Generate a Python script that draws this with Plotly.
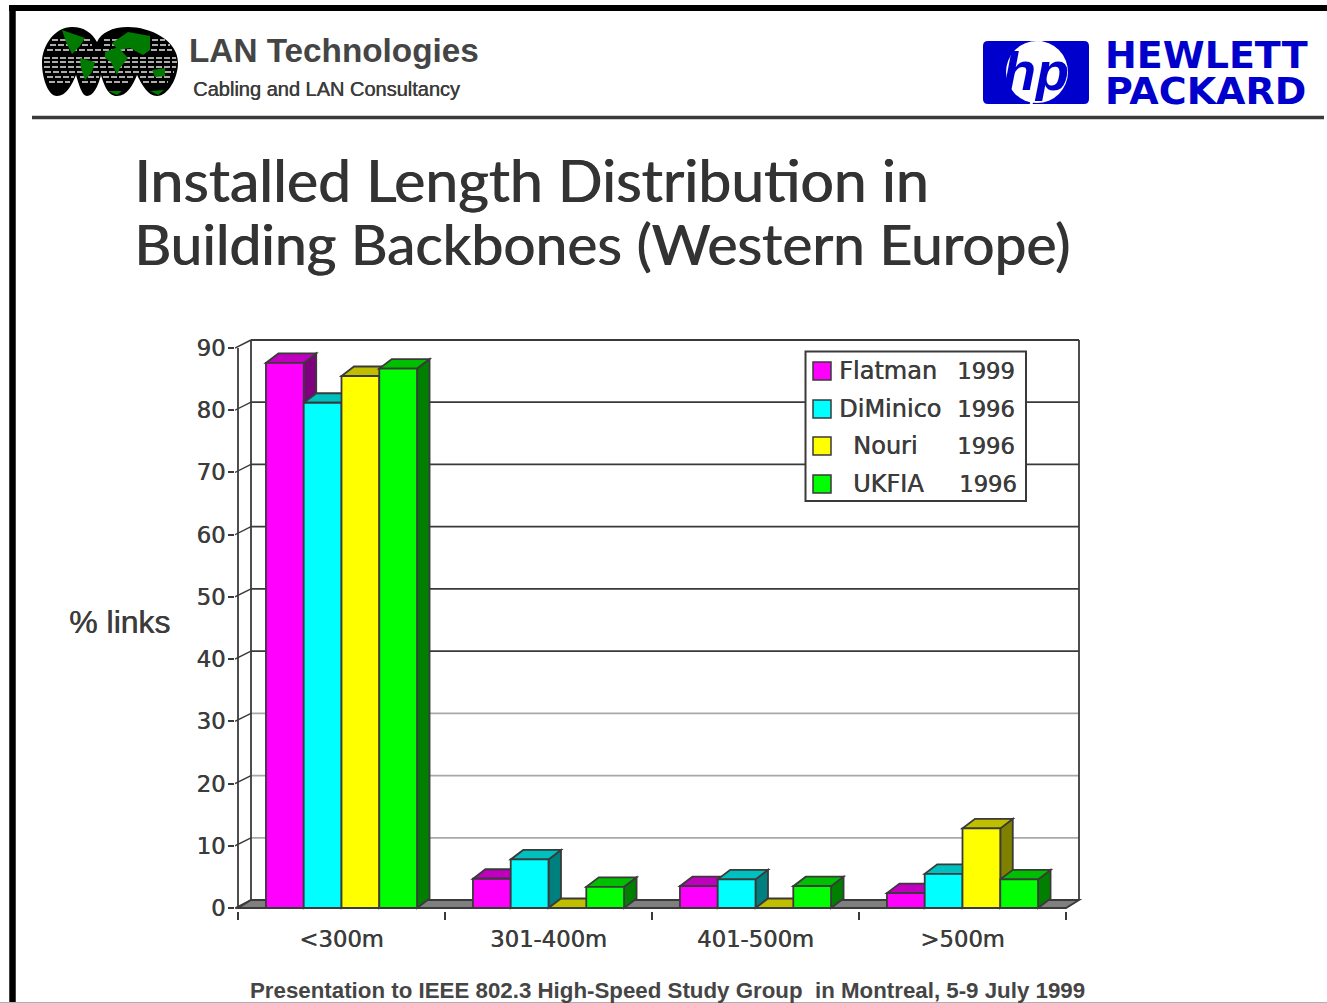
import plotly.graph_objects as go

# Survey results: share of backbone links per installed length band
categories = ["<300m", "301-400m", "401-500m", ">500m"]
flatman_1999 = [87.6, 4.7, 3.5, 2.4]
diminico_1996 = [81.2, 7.8, 4.6, 5.5]
nouri_1996 = [85.5, 0.0, 0.0, 12.8]
ukfia_1996 = [86.7, 3.4, 3.5, 4.6]
y_ticks = [0, 10, 20, 30, 40, 50, 60, 70, 80, 90]

sources = ["Flatman", "DiMinico", "Nouri", "UKFIA"]
source_years = ["1999", "1996", "1996", "1996"]
series = [flatman_1999, diminico_1996, nouri_1996, ukfia_1996]

front = ["#ff00ff", "#00ffff", "#ffff00", "#00ff00"]
top = ["#bf00bf", "#00bfbf", "#bfbf00", "#00bf00"]
side = ["#7f007f", "#007f7f", "#7f7f00", "#007f00"]

W, H = 1327, 1003
TEXT = "#3c3c3c"
EDGE = "#3a3a3a"
HEAVY = f"0.5px 0 0 {TEXT}"

# Chart frame in page pixels: front plane plus the oblique depth of the box
LEFT, RIGHT, BASE, TOP90 = 238.0, 1066.0, 908.0, 348.0
DEPTH_X, DEPTH_Y = 13.0, 8.0
BAR_DEPTH_Y = 9.5
PAD = 3.0
per_cat = (RIGHT - LEFT) / len(categories)
per_val = (BASE - TOP90) / 90.0
dx = DEPTH_X / per_cat
dy = DEPTH_Y / per_val
bar_dx = 12.5 / per_cat
bar_dy = BAR_DEPTH_Y / per_val
pad_x = PAD / per_cat
pad_y = PAD / per_val
x_range = [-pad_x, len(categories) + dx + pad_x]
y_range = [-pad_y, 90 + dy + pad_y]
plot_l, plot_r = LEFT - PAD, RIGHT + DEPTH_X + PAD
plot_t, plot_b = TOP90 - DEPTH_Y - PAD, BASE + PAD


def px(x):
    return (x - plot_l) / (plot_r - plot_l)


def py(y):
    return (plot_b - y) / (plot_b - plot_t)


def poly(points, fill, line=EDGE, width=1.8, layer="below"):
    d = "M" + " L".join(f"{a},{b}" for a, b in points) + " Z"
    return dict(type="path", path=d, xref="x", yref="y", fillcolor=fill,
                line=dict(color=line, width=width), layer=layer)


def seg(x0, y0, x1, y1, color=EDGE, width=1.8, layer="below"):
    return dict(type="line", xref="x", yref="y", x0=x0, y0=y0, x1=x1, y1=y1,
                line=dict(color=color, width=width), layer=layer)


def page_line(x0, y0, x1, y1, color, width, dash=None):
    ln = dict(color=color, width=width)
    if dash:
        ln["dash"] = dash
    return dict(type="line", xref="paper", yref="paper", x0=px(x0), y0=py(y0),
                x1=px(x1), y1=py(y1), line=ln, layer="above")


def page_path(points, fill, line_color=None, width=0):
    return dict(type="path", path=points, xref="paper", yref="paper", fillcolor=fill,
                line=dict(color=line_color or fill, width=width), layer="above")


def curve(spec):
    """Turn 'M x,y C x,y x,y x,y ...' in page pixels into paper coordinates."""
    out = []
    for tok in spec.split():
        if "," in tok:
            a, b = tok.split(",")
            out.append(f"{px(float(a)):.5f},{py(float(b)):.5f}")
        else:
            out.append(tok)
    return " ".join(out)


def label(x, y, text, size, anchor="left", bold=False, family="Liberation Sans",
          color=TEXT, shadow=None):
    if bold:
        text = f"<b>{text}</b>"
    font = dict(family=family, size=size, color=color)
    if shadow:
        font["shadow"] = shadow
    return dict(xref="paper", yref="paper", x=px(x), y=py(y), text=text, showarrow=False,
                xanchor=anchor, yanchor="middle", font=font, borderpad=0)


shapes = []

# Back wall, gridlines and floor of the oblique box
for v in y_ticks:
    shapes.append(seg(dx, v + dy, len(categories) + dx, v + dy,
                      color="#a8a8a8" if v in (10, 20, 30) else EDGE))
    shapes.append(seg(0 - pad_x, v, dx, v + dy, width=1.4))
shapes.append(seg(dx, dy, dx, 90 + dy))
shapes.append(seg(len(categories) + dx, dy, len(categories) + dx, 90 + dy))
shapes.append(poly([(0, 0), (len(categories), 0), (len(categories) + dx, dy), (dx, dy)], "#7f7f7f"))

# Oblique top and side faces; the bar traces supply the front faces
group_gap = 0.27
bar_w = (1 - group_gap) / len(series)
for c in range(len(categories)):
    start = c + group_gap / 2
    for k, values in enumerate(series):
        v = values[c]
        x0 = start + k * bar_w
        x1 = x0 + bar_w
        shapes.append(poly([(x1, 0), (x1 + bar_dx, bar_dy), (x1 + bar_dx, v + bar_dy), (x1, v)], side[k]))
        shapes.append(poly([(x0, v), (x1, v), (x1 + bar_dx, v + bar_dy), (x0 + bar_dx, v + bar_dy)], top[k]))

fig = go.Figure()
for k, values in enumerate(series):
    fig.add_trace(go.Bar(
        x=[i + 0.5 for i in range(len(categories))], y=values,
        name=f"{sources[k]} {source_years[k]}",
        marker=dict(color=front[k], line=dict(color=EDGE, width=1.8)),
        showlegend=False, hoverinfo="skip",
    ))

# Left axis line in front of everything
shapes.append(page_line(LEFT, BASE + 0.5, LEFT, TOP90, EDGE, 1.8))

# Legend panel
shapes.append(dict(type="rect", xref="paper", yref="paper", x0=px(805.5), x1=px(1026), y0=py(351.5), y1=py(501),
                   fillcolor="white", line=dict(color=EDGE, width=2), layer="above"))
rows = [371, 409, 446, 484]
name_x = [838, 838, 852, 852]
annotations = []
for k, y in enumerate(rows):
    shapes.append(dict(type="rect", xref="paper", yref="paper", x0=px(813), x1=px(831), y0=py(y - 9), y1=py(y + 9),
                       fillcolor=front[k], line=dict(color=EDGE, width=1.5), layer="above"))
    annotations.append(label(name_x[k], y, sources[k], 24, family="DejaVu Sans", shadow=HEAVY))
    annotations.append(label(1016 + (2 if k == 3 else 0), y, source_years[k], 22.7, anchor="right",
                             family="DejaVu Sans", shadow=HEAVY))

# Page frame and header rule
shapes += [
    page_line(9, 8, W, 8, "#000000", 6),
    page_line(12.5, 5, 12.5, H, "#000000", 6.5),
    page_line(32, 117.5, 1324, 117.5, "#3a3a3a", 3.5),
    page_line(0, 1002.5, W, 1002.5, "#b0b0b0", 1),
]

# Globe emblem
shapes.append(page_path(curve(
    "M 42,63 C 42,45 55,27 72,27 C 84,27 92,33 97,42 C 101,33 112,27 128,27 "
    "C 150,27 178,40 178,63 C 178,78 168,96 157,96 C 148,96 142,85 137,75 "
    "C 133,85 127,96 117,96 C 108,96 104,85 101,75 C 98,87 93,96 87,96 "
    "C 82,96 79,85 76,75 C 72,85 66,96 57,96 C 48,96 42,78 42,63 Z"), "#000000"))
stripes = [(40, 52, 92), (40, 104, 165), (45, 50, 92), (45, 104, 170), (50, 47, 172), (58, 44, 176), (62, 44, 177),
           (67, 44, 176), (72, 45, 174), (77, 47, 74), (77, 80, 99), (77, 103, 135), (77, 140, 171),
           (82, 49, 70), (82, 82, 96), (82, 106, 130), (82, 143, 168)]
for y, a, b in stripes:
    shapes.append(page_line(a, y, b, y, "#e4e4e4", 1.5, dash="6px,2px"))
green = "#007a00"
for blob in [
    "M 62,30 L 85,38 L 80,46 L 72,54 L 66,42 Z",
    "M 80,58 L 95,62 L 92,72 L 85,80 L 81,68 Z",
    "M 112,43 L 128,32 L 150,36 L 150,50 L 143,55 L 130,48 L 118,50 Z",
    "M 105,52 L 118,47 L 128,58 L 120,68 L 117,75 L 111,62 L 105,58 Z",
    "M 152,70 L 165,68 L 165,76 L 155,77 Z",
    "M 108,91 L 122,91 L 117,95 Z",
    "M 150,91 L 164,90 L 158,95 Z",
]:
    shapes.append(page_path(curve(blob), green))

# HP badge
shapes.append(page_path(curve(
    "M 988,41 L 1084,41 Q 1089,41 1089,46 L 1089,99 Q 1089,104 1084,104 L 988,104 "
    "Q 983,104 983,99 L 983,46 Q 983,41 988,41 Z"), "#0000cc"))
shapes.append(dict(type="circle", xref="paper", yref="paper", x0=px(1006), x1=px(1068), y0=py(41), y1=py(103),
                   fillcolor="white", line=dict(color="white", width=0), layer="above"))
shapes.append(page_line(1041, 41, 1035, 58, "white", 3))
shapes.append(page_line(1031, 104, 1037, 88, "white", 3))

annotations += [
    label(188, 50, "LAN Technologies", 33.3, bold=True, color="#454545"),
    label(192, 89, "Cabling and LAN Consultancy", 20, shadow=HEAVY),
    label(1036, 71, "<b><i>hp</i></b>", 54, anchor="center", color="#0000cc"),
    label(1104, 54.5, "HEWLETT", 38, family="DejaVu Sans", bold=True, color="#0000cc"),
    label(1104, 91, "PACKARD", 38, family="DejaVu Sans", bold=True, color="#0000cc"),
    label(133, 179, "Installed Length Distribution in", 58.9, family="Lato", color="#333333",
          shadow="0.9px 0 0 #333333"),
    label(133, 243, "Building Backbones (Western Europe)", 56.9, family="Lato", color="#333333",
          shadow="0.9px 0 0 #333333"),
    label(68, 622, "% links", 32, shadow=HEAVY),
    label(249, 990, "Presentation to IEEE 802.3 High-Speed Study Group\u00a0 in Montreal, 5-9 July 1999",
          22.3, bold=True, color="#454545"),
]

tick_font = dict(family="DejaVu Sans", size=22.7, color=TEXT, shadow=HEAVY)
fig.update_layout(
    width=W, height=H, autosize=False,
    margin=dict(l=plot_l, r=W - plot_r, t=plot_t, b=H - plot_b, pad=0),
    paper_bgcolor="white", plot_bgcolor="white",
    barmode="group", bargap=group_gap, bargroupgap=0,
    shapes=shapes, annotations=annotations, showlegend=False,
    xaxis=dict(
        range=x_range, showgrid=False, zeroline=False, showline=False,
        tickmode="array", tickvals=[i + 0.5 for i in range(len(categories))], ticktext=categories,
        ticks="outside", ticklen=8, tickcolor="rgba(0,0,0,0)",
        tickfont=tick_font,
        minor=dict(tickmode="array", tickvals=list(range(len(categories) + 1)), ticks="outside",
                   ticklen=8, tickwidth=1.8, tickcolor=EDGE, showgrid=False),
    ),
    yaxis=dict(
        range=y_range, showgrid=False, zeroline=False, showline=False,
        tickmode="array", tickvals=y_ticks, ticks="outside", ticklen=6, tickwidth=1.8, tickcolor=EDGE,
        ticklabelstandoff=-2, tickfont=tick_font,
    ),
)

fig.write_html("out.html")
